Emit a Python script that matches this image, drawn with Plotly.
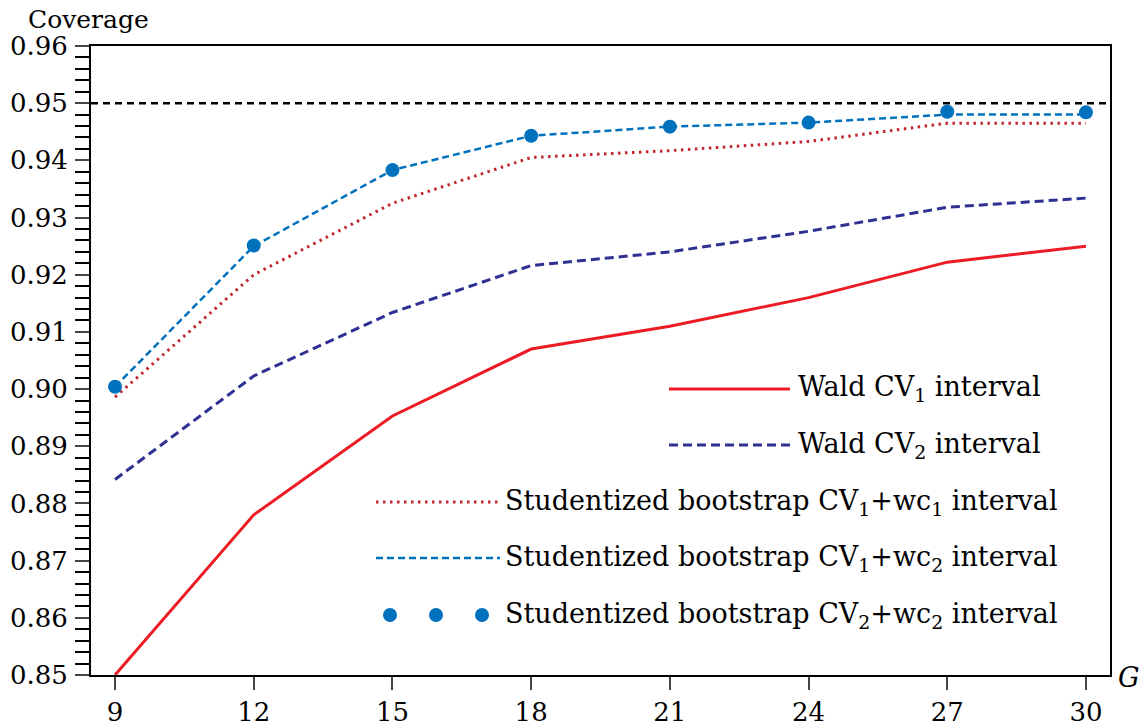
import plotly.graph_objects as go

# number of clusters G and empirical coverage of each interval
G = [9, 12, 15, 18, 21, 24, 27, 30]
wald_cv1 = [0.8500, 0.8780, 0.8953, 0.9070, 0.9110, 0.9160, 0.9222, 0.9250]
wald_cv2 = [0.8842, 0.9023, 0.9134, 0.9216, 0.9240, 0.9276, 0.9318, 0.9334]
boot_cv1_wc1 = [0.8986, 0.9200, 0.9325, 0.9405, 0.9417, 0.9433, 0.9465, 0.9465]
boot_cv1_wc2 = [0.9004, 0.9250, 0.9383, 0.9443, 0.9459, 0.9466, 0.9480, 0.9480]
boot_cv2_wc2 = [0.9004, 0.9251, 0.9383, 0.9443, 0.9459, 0.9466, 0.9485, 0.9484]
nominal = 0.95

y_ticks = [0.85, 0.86, 0.87, 0.88, 0.89, 0.90, 0.91, 0.92, 0.93, 0.94, 0.95, 0.96]
x_ticks = [9, 12, 15, 18, 21, 24, 27, 30]

labels = [
    "Wald CV<sub>1</sub> interval",
    "Wald CV<sub>2</sub> interval",
    "Studentized bootstrap CV<sub>1</sub>+wc<sub>1</sub> interval",
    "Studentized bootstrap CV<sub>1</sub>+wc<sub>2</sub> interval",
    "Studentized bootstrap CV<sub>2</sub>+wc<sub>2</sub> interval",
]

RED = "#ed1c24"
NAVY = "#2e3192"
BROWN = "#c1272d"
BLUE = "#0071bc"
FONT = "DejaVu Serif"

# the page body has an 8px margin, so the figure starts 8px in
OFF = 8
W, H = 1147, 728
L, R, T, B = 91, 37, 46, 53          # plot area edges as seen on screen
PW, PH = W - L - R, H - T - B


def px(x):
    return (x - L) / PW


def py(y):
    return (H - B - y) / PH


line_styles = [
    dict(color=RED, width=3),
    dict(color=NAVY, width=3, dash="9px,5px"),
    dict(color=BROWN, width=3, dash="2.5px,4.5px"),
    dict(color=BLUE, width=2.5, dash="7px,4px"),
]

fig = go.Figure()
for ys, name, st in zip([wald_cv1, wald_cv2, boot_cv1_wc1, boot_cv1_wc2],
                        labels[:4], line_styles):
    fig.add_trace(go.Scatter(x=G, y=ys, mode="lines", name=name, line=st))
fig.add_trace(go.Scatter(x=G, y=boot_cv2_wc2, mode="markers", name=labels[4],
                         marker=dict(color=BLUE, size=14)))

# hand-made legend, placed like the original
shapes = []
annots = []
rows = [389, 445, 502, 558, 615]
line_x = [(669, 790), (669, 790), (376, 500), (376, 500), None]
text_x = [796, 796, 503, 503, 503]
for i, y in enumerate(rows):
    if line_x[i] is not None:
        shapes.append(dict(type="line", xref="paper", yref="paper",
                           x0=px(line_x[i][0]), x1=px(line_x[i][1]),
                           y0=py(y), y1=py(y), line=line_styles[i]))
    else:
        for cx in (390, 436, 482):
            shapes.append(dict(type="circle", xref="paper", yref="paper",
                               x0=px(cx - 7), x1=px(cx + 7),
                               y0=py(y + 7), y1=py(y - 7),
                               fillcolor=BLUE, line=dict(width=0)))
    annots.append(dict(text=labels[i], xref="paper", yref="paper",
                       x=px(text_x[i]), y=py(y), xanchor="left", yanchor="middle",
                       showarrow=False, font=dict(family=FONT, size=27, color="black")))

annots.append(dict(text="<i>G</i>", xref="paper", yref="paper", x=px(1116), y=py(678),
                   xanchor="left", yanchor="middle", showarrow=False,
                   font=dict(family=FONT, size=27, color="black")))

fig.update_layout(
    width=W, height=H,
    margin=dict(l=L - OFF, r=R + OFF, t=T - OFF, b=B + OFF),
    paper_bgcolor="white", plot_bgcolor="white",
    showlegend=False,
    font=dict(family=FONT, size=26, color="black"),
    title=dict(text="Coverage", xref="container", yref="container",
               x=(28 - OFF) / W, xanchor="left", y=1 - (19 - OFF) / H, yanchor="middle",
               font=dict(family=FONT, size=25, color="black")),
    shapes=shapes, annotations=annots,
    xaxis=dict(range=[8.48, 30.52], tickvals=x_ticks, ticks="outside", ticklen=13,
               tickwidth=2, showline=True, linewidth=2, linecolor="black",
               mirror=True, showgrid=False, zeroline=False, automargin=False,
               tickfont=dict(family=FONT, size=26)),
    yaxis=dict(range=[0.85, 0.96], tickvals=y_ticks, tickformat=".2f",
               ticks="outside", ticklen=14, tickwidth=2, ticklabelstandoff=2,
               minor=dict(dtick=0.002, ticks="outside", ticklen=14, tickwidth=2,
                          tickcolor="black", showgrid=False),
               showline=True, linewidth=2, linecolor="black", mirror=True,
               showgrid=False, zeroline=False, automargin=False,
               tickfont=dict(family=FONT, size=26)),
)
fig.add_hline(y=nominal, line=dict(color="black", width=2.5, dash="7px,5px"))

fig.write_html("out.html")
